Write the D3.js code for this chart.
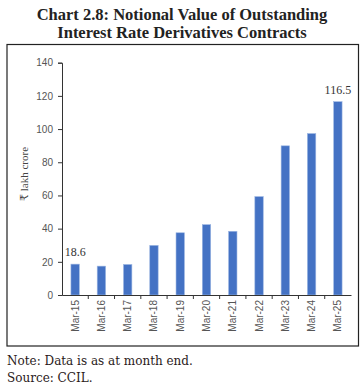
<!DOCTYPE html>
<html><head><meta charset="utf-8">
<script src="https://cdn.jsdelivr.net/npm/d3@7"></script>
<style>body{margin:0;background:#fff}</style>
</head><body>
<svg id="c" width="364" height="386"></svg>
<script>
const categories = ["Mar-15","Mar-16","Mar-17","Mar-18","Mar-19","Mar-20","Mar-21","Mar-22","Mar-23","Mar-24","Mar-25"];
const values = [18.6,17.4,18.4,29.9,37.5,42.4,38.4,59.3,89.9,97.3,116.5];
const yTicks = [0,20,40,60,80,100,120,140];
const labelled = {"Mar-15":"18.6","Mar-25":"116.5"};

const svg = d3.select("#c");
const serif = "'Liberation Serif','DejaVu Serif',serif";
const wideSerif = "'DejaVu Serif',serif";
const sans = "'Liberation Sans','DejaVu Sans',sans-serif";

svg.append("text").attr("x",182).attr("y",20).attr("text-anchor","middle")
  .attr("font-family",serif).attr("font-weight","bold").attr("font-size",16.5).attr("fill","#222")
  .text("Chart 2.8: Notional Value of Outstanding");
svg.append("text").attr("x",182).attr("y",38).attr("text-anchor","middle")
  .attr("font-family",serif).attr("font-weight","bold").attr("font-size",16.5).attr("fill","#222")
  .text("Interest Rate Derivatives Contracts");

svg.append("rect").attr("x",7).attr("y",44.5).attr("width",351.5).attr("height",301.5)
  .attr("fill","none").attr("stroke","#222").attr("stroke-width",1.2);

const x = d3.scaleBand().domain(categories).range([62,351]).paddingInner(0.68).paddingOuter(0.34);
const y = d3.scaleLinear().domain([0,140]).range([295,62.7]);

const yAxis = svg.append("g").attr("transform","translate(62,0)")
  .call(d3.axisLeft(y).tickValues(yTicks).tickSize(4).tickPadding(5));
yAxis.select(".domain").attr("stroke","#333");
yAxis.selectAll(".tick line").attr("stroke","#333");
yAxis.selectAll("text").attr("font-family",sans).attr("font-size",10).attr("fill","#555");

svg.selectAll("rect.bar").data(categories).enter().append("rect").attr("class","bar")
  .attr("x",d=>x(d)).attr("width",x.bandwidth())
  .attr("y",(d,i)=>y(values[i])).attr("height",(d,i)=>y(0)-y(values[i]))
  .attr("fill","#4472C4").attr("stroke","#9db7e3").attr("stroke-width",0.6);

const xAxis = svg.append("g").attr("transform","translate(0,295)")
  .call(d3.axisBottom(x).tickSize(0).tickPadding(0));
xAxis.select(".domain").attr("stroke","#333");
xAxis.selectAll(".tick text").attr("font-family",sans).attr("font-size",10).attr("fill","#555")
  .attr("transform","rotate(-90)").attr("text-anchor","end").attr("dx","-5").attr("dy","0.35em").attr("x",0).attr("y",0);
const step = x.step();
const bounds = categories.map(c=>x(c) - (step-x.bandwidth())/2).slice(1);
svg.append("g").selectAll("line").data(bounds).enter().append("line")
  .attr("x1",d=>d).attr("x2",d=>d).attr("y1",295).attr("y2",299).attr("stroke","#333");

svg.append("g").selectAll("text").data(categories.filter(c=>labelled[c])).enter().append("text")
  .attr("x",d=>x(d)+x.bandwidth()/2).attr("y",d=>y(values[categories.indexOf(d)])-8)
  .attr("text-anchor","middle").attr("font-family",serif).attr("font-size",12).attr("fill","#333")
  .text(d=>labelled[d]);

svg.append("text").attr("transform","translate(28,174) rotate(-90)").attr("text-anchor","middle")
  .attr("font-family",serif).attr("font-size",11).attr("fill","#444").text("₹ lakh crore");

svg.append("text").attr("x",7).attr("y",365).attr("font-family",wideSerif).attr("font-size",12).attr("fill","#2a1a1a")
  .text("Note: Data is as at month end.");
svg.append("text").attr("x",7).attr("y",382).attr("font-family",wideSerif).attr("font-size",12).attr("fill","#2a1a1a")
  .text("Source: CCIL.");
</script>
</body></html>
